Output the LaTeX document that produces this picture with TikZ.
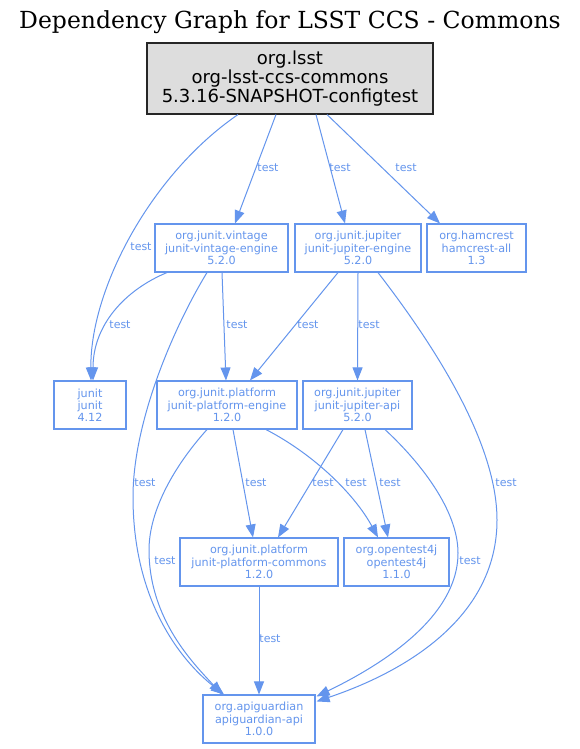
\documentclass[tikz,border=0pt]{standalone}
\usepackage{fontspec}
\setmainfont{DejaVu Serif}
\newfontfamily\gvsans{DejaVu Sans}
\usetikzlibrary{arrows.meta}
\definecolor{cblue}{HTML}{6495ED}
\definecolor{rootfill}{HTML}{DDDDDD}
\tikzset{
  dep/.style={draw=cblue, line width=1.1pt, fill=white, text=cblue, align=center, inner sep=0pt,
     minimum height=48pt, font=\gvsans\fontsize{11.2}{12.2}\selectfont},
  rootbox/.style={draw=black!85, line width=1.1pt, fill=rootfill, text=black, align=center, inner sep=0pt,
     minimum width=286pt, minimum height=71pt, font=\gvsans\fontsize{18}{18.8}\selectfont},
  edge/.style={draw=cblue, line width=1pt, -{Triangle[length=13pt,width=10pt]}},
  elabel/.style={text=cblue, inner sep=0pt, font=\gvsans\fontsize{11}{12}\selectfont}
}
\begin{document}
\begin{tikzpicture}[x=1pt,y=-1pt]
\useasboundingbox[fill=white] (0,0) rectangle (580,749);
\node[font=\fontsize{23.5}{26}\selectfont] (title) at (290,22) {Dependency Graph for LSST CCS - Commons};
\node[rootbox] (root) at (290,78.5) {org.lsst\\org-lsst-ccs-commons\\5.3.16-SNAPSHOT-configtest};
\node[dep, minimum width=133pt] (vin) at (221.5,248) {org.junit.vintage\\junit-vintage-engine\\5.2.0};
\node[dep, minimum width=126pt] (jue) at (358,248) {org.junit.jupiter\\junit-jupiter-engine\\5.2.0};
\node[dep, minimum width=99pt] (ham) at (476.5,248) {org.hamcrest\\hamcrest-all\\1.3};
\node[dep, minimum width=72pt] (jun) at (90,405) {junit\\junit\\4.12};
\node[dep, minimum width=140pt] (pe) at (227,405) {org.junit.platform\\junit-platform-engine\\1.2.0};
\node[dep, minimum width=109pt] (jua) at (357.5,405) {org.junit.jupiter\\junit-jupiter-api\\5.2.0};
\node[dep, minimum width=158pt] (pc) at (259,562) {org.junit.platform\\junit-platform-commons\\1.2.0};
\node[dep, minimum width=105pt] (ot) at (396.5,562) {org.opentest4j\\opentest4j\\1.1.0};
\node[dep, minimum width=112pt] (api) at (259,719) {org.apiguardian\\apiguardian-api\\1.0.0};

% edges
\draw[edge] ([xshift=-52pt]root.south) .. controls (150,175) and (90,290) .. ([xshift=1pt]jun.north);
\draw[edge] ([xshift=-14pt]root.south) -- ([xshift=13.5pt]vin.north);
\draw[edge] ([xshift=26pt]root.south) -- ([xshift=-13pt]jue.north);
\draw[edge] ([xshift=37pt]root.south) -- ([xshift=-36.5pt]ham.north);
\draw[edge] ([xshift=-54.5pt]vin.south) .. controls (125,290) and (93,325) .. ([xshift=3pt]jun.north);
\draw[edge] ([xshift=0.5pt]vin.south) -- ([xshift=-1pt]pe.north);
\draw[edge] ([xshift=-14.5pt]vin.south) .. controls (175,325) and (133,420) .. (133,497) .. controls (133,600) and (180,660) .. ([xshift=-35pt]api.north);
\draw[edge] ([xshift=-20pt]jue.south) -- ([xshift=23pt]pe.north);
\draw[edge] (jue.south) -- (jua.north);
\draw[edge] ([xshift=20pt]jue.south) .. controls (430,340) and (497,440) .. (497,520) .. controls (497,615) and (410,670) .. ([xshift=1pt,yshift=-7pt]api.north east);
\draw[edge] ([xshift=6pt]pe.south) -- ([xshift=-6pt]pc.north);
\draw[edge] ([xshift=39pt]pe.south) .. controls (315,455) and (355,495) .. ([xshift=-18.5pt]ot.north);
\draw[edge] ([xshift=-20pt]pe.south) .. controls (175,465) and (149,510) .. (149,550) .. controls (149,620) and (195,665) .. ([xshift=-37pt]api.north);
\draw[edge] ([xshift=-14.5pt]jua.south) -- ([xshift=19pt]pc.north);
\draw[edge] ([xshift=7.5pt]jua.south) -- ([xshift=-8.5pt]ot.north);
\draw[edge] ([xshift=27.5pt]jua.south) .. controls (420,462) and (458,510) .. (458,553) .. controls (458,620) and (375,668) .. ([xshift=1pt,yshift=-2pt]api.north east);
\draw[edge] (pc.south) -- (api.north);

% labels
\node[elabel] (l1) at (141,247) {test};
\node[elabel] (l2) at (268,168) {test};
\node[elabel] (l3) at (340,168) {test};
\node[elabel] (l4) at (406,168) {test};
\node[elabel] (l5) at (120,325) {test};
\node[elabel] (l6) at (237,325) {test};
\node[elabel] (l7) at (145,483) {test};
\node[elabel] (l8) at (308,325) {test};
\node[elabel] (l9) at (369,325) {test};
\node[elabel] (l10) at (506,483) {test};
\node[elabel] (l11) at (256,483) {test};
\node[elabel] (l12) at (356,483) {test};
\node[elabel] (l13) at (165,561) {test};
\node[elabel] (l14) at (323,483) {test};
\node[elabel] (l15) at (390,483) {test};
\node[elabel] (l16) at (470,561) {test};
\node[elabel] (l17) at (270,639) {test};
\end{tikzpicture}
\end{document}
